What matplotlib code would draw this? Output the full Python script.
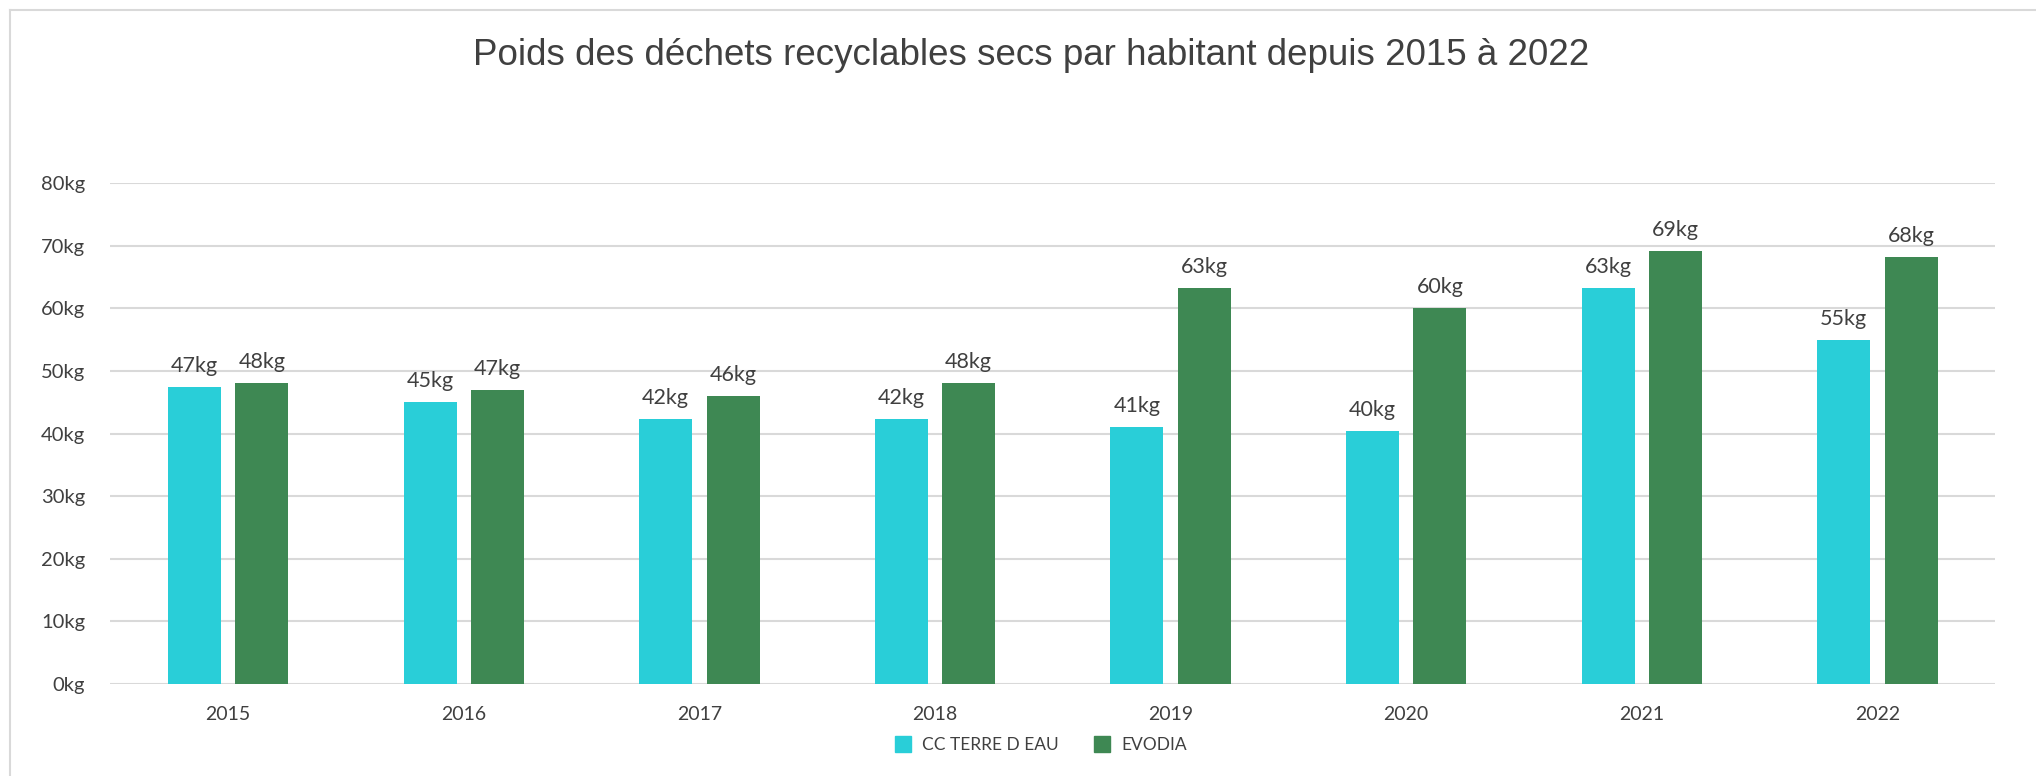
import numpy as np
import matplotlib.pyplot as plt
from matplotlib.lines import Line2D

years = ["2015", "2016", "2017", "2018", "2019", "2020", "2021", "2022"]
cc_terre = [47.4, 45.0, 42.3, 42.3, 41.0, 40.4, 63.2, 54.9]
evodia = [48.1, 47.0, 46.0, 48.0, 63.2, 60.1, 69.2, 68.2]
series_names = ["CC TERRE D EAU", "EVODIA"]
yticks = [0, 10, 20, 30, 40, 50, 60, 70, 80]

cyan = "#29CED8"
green = "#3E8853"
text_col = "#404040"
grid_col = "#D9D9D9"

plt.rcParams["font.family"] = ["Lato", "DejaVu Sans"]

fig = plt.figure(figsize=(20.36, 7.76), dpi=100)
ax = fig.add_axes([0.0542, 0.1187, 0.9258, 0.6453])

x = np.arange(len(years))
w = 0.225
off = 0.143
b1 = ax.bar(x - off, cc_terre, w, color=cyan, zorder=3)
b2 = ax.bar(x + off, evodia, w, color=green, zorder=3)

for bars, vals in ((b1, cc_terre), (b2, evodia)):
    for r, v in zip(bars, vals):
        ax.annotate(f"{v:.0f}kg", (r.get_x() + r.get_width() / 2, v),
                    xytext=(0, 8), textcoords="offset points",
                    ha="center", va="bottom", fontsize=15.5, color=text_col)

ax.set_xlim(-0.5, len(years) - 0.5)
ax.set_ylim(0, 80)
ax.set_xticks(x)
ax.set_xticklabels(years, fontsize=14, color=text_col)
ax.set_yticks(yticks)
ax.set_yticklabels([f"{t}kg" for t in yticks], fontsize=14.5, color=text_col)
ax.tick_params(axis="both", length=0)
ax.tick_params(axis="x", pad=16)
ax.tick_params(axis="y", pad=18)
ax.yaxis.grid(True, color=grid_col, linewidth=1.5, zorder=0)
for s in ax.spines.values():
    s.set_visible(False)

fig.text(0.5065, 0.928, "Poids des déchets recyclables secs par habitant depuis 2015 à 2022",
         ha="center", va="center", fontsize=26.5, color=text_col, family="Liberation Sans")

handles = [Line2D([], [], marker="s", linestyle="none", markersize=11, color=c)
           for c in (cyan, green)]
fig.legend(handles, series_names, loc="center", bbox_to_anchor=(0.509, 0.04), ncol=2,
           frameon=False, fontsize=12.5, handletextpad=0.1, columnspacing=1.5,
           labelcolor=text_col)

# chart area border (left and top only visible)
fig.add_artist(Line2D([0.005, 0.005], [0, 0.987], color=grid_col, linewidth=1.5))
fig.add_artist(Line2D([0.005, 1.0], [0.987, 0.987], color=grid_col, linewidth=1.5))

fig.savefig("out.png", dpi=100)
